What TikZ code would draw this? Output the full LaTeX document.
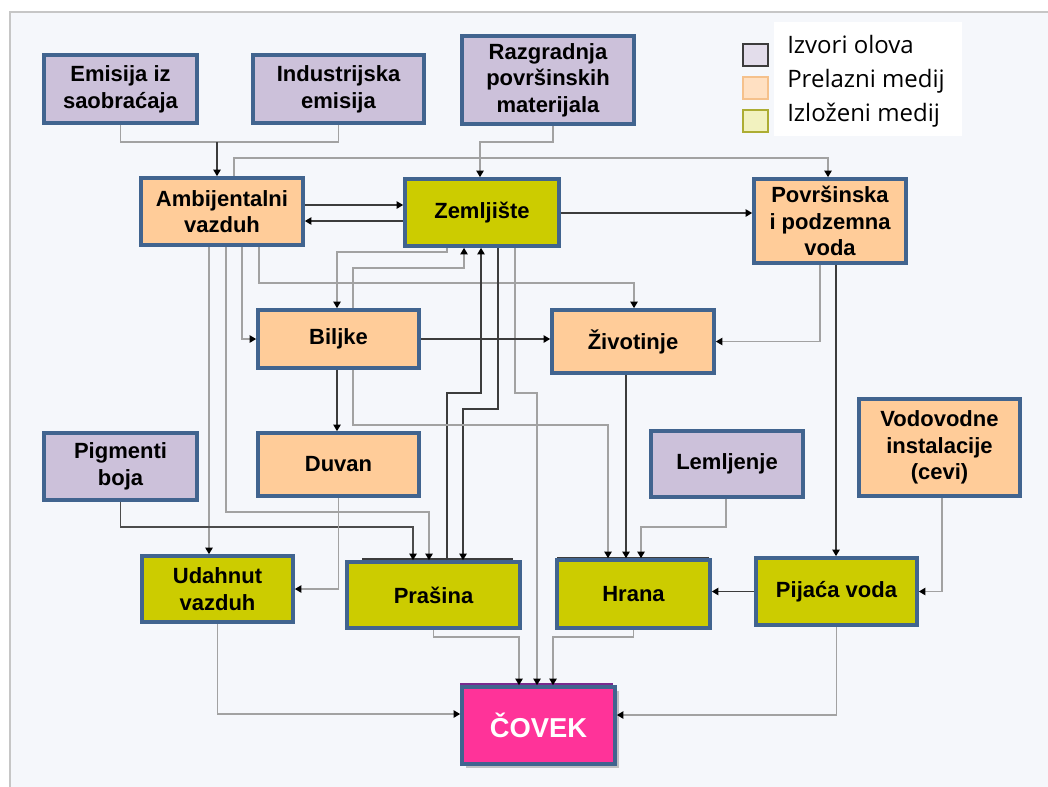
\documentclass[tikz,border=0pt]{standalone}
\usepackage{fontspec}
\setmainfont{Liberation Sans}
\newfontfamily\legfont{Open Sans}
\usetikzlibrary{arrows.meta}
\definecolor{boxblue}{HTML}{41648F}
\definecolor{lilac}{HTML}{CCC1DA}
\definecolor{peach}{HTML}{FFCC99}
\definecolor{olive}{HTML}{CCCC00}
\definecolor{pinkc}{HTML}{FF3399}
\definecolor{purplec}{HTML}{7A2A8E}
\definecolor{panelbg}{HTML}{F5F7FB}
\definecolor{lgray}{HTML}{A2A2A2}
\definecolor{dgray}{HTML}{3C3C3C}
\tikzset{
  x=0.75pt, y=-0.75pt,
  sz/.style 2 args={minimum width=#1*0.75pt, minimum height=#2*0.75pt},
  box/.style={draw=boxblue, line width=2.7pt, align=center, inner sep=0pt,
    font=\bfseries\fontsize{16.5}{20}\selectfont},
  src/.style={box, fill=lilac},
  mid/.style={box, fill=peach},
  exp/.style={box, fill=olive},
  tipk/.style={-{Triangle[length=5pt,width=5.5pt,color=black]}},
  gl/.style={draw=lgray, line width=1.3pt},
  dl/.style={draw=dgray, line width=1.3pt},
  legtext/.style={anchor=base west, inner sep=0pt, font=\legfont\fontsize{18}{22}\selectfont},
}
\begin{document}
\begin{tikzpicture}
\useasboundingbox (0,0) rectangle (1048,786);
\fill[white] (0,0) rectangle (1048,786);
\draw[draw=gray!45, line width=1.5pt, fill=panelbg] (10,12) rectangle (1070,810);

% legend
\fill[white] (774,22) rectangle (962,136);
\draw[draw=dgray, line width=1.5pt, fill=lilac!55] (743,44) rectangle (768,66);
\draw[draw=peach!85!brown, line width=1pt, fill=peach!60] (743,77) rectangle (768,99);
\draw[draw=olive!60!gray, line width=1pt, fill=olive!25] (743,110) rectangle (768,132);
\node[legtext] (l1) at (787,53) {Izvori olova};
\node[legtext] (l2) at (787,87) {Prelazni medij};
\node[legtext] (l3) at (787,121) {Izloženi medij};

% shadows behind some boxes
\draw[dgray, line width=2pt] (362,559) -- (513,559);
\draw[dgray, line width=2pt] (557,558) -- (709,558);
\fill[black, opacity=0.22] (466,691) rectangle (619,768);
\fill[purplec] (460,683) rectangle (613,748);

% nodes
\node[src, sz={153}{68}] (emis) at (120.5,89) {Emisija iz\\saobraćaja};
\node[src, sz={171}{68}] (ind) at (338.5,89) {Industrijska\\emisija};
\node[src, sz={172}{88}] (razg) at (548,80) {Razgradnja\\površinskih\\materijala};
\node[mid, sz={162}{67}] (amb) at (222,211.5) {Ambijentalni\\vazduh};
\node[exp, sz={154}{67}] (zem) at (482,212.5) {Zemljište};
\node[mid, sz={152}{84}] (pov) at (830,221) {Površinska\\i podzemna\\voda};
\node[mid, sz={161}{58}] (bilj) at (338.5,339) {Biljke};
\node[mid, sz={162}{63}] (ziv) at (633,341.5) {Životinje};
\node[mid, sz={161}{63}] (duv) at (338.5,464.5) {Duvan};
\node[src, sz={153}{67}] (pig) at (120.5,466.5) {Pigmenti\\boja};
\node[src, sz={152}{66}] (lem) at (727,464) {Lemljenje};
\node[mid, sz={161}{97}] (vod) at (939.5,447.5) {Vodovodne\\instalacije\\(cevi)};
\node[exp, sz={151}{66}] (udah) at (217.5,589) {Udahnut\\vazduh};
\node[exp, sz={173}{66}] (pras) at (433.5,595) {Prašina};
\node[exp, sz={153}{68}] (hra) at (633.5,594) {Hrana};
\node[exp, sz={161}{67}] (pij) at (836.5,591.5) {Pijaća voda};
\node[box, fill=pinkc, sz={153}{77}, text=white,
      font=\bfseries\fontsize{20.5}{24}\selectfont] (cov) at (538.5,725.5) {ČOVEK};

% connectors
\coordinate (j1) at (217,142);
\draw[gl] (emis.south) |- (338.5,142) -- (ind.south);
\draw[dl, tipk] (j1) -- (217,0 |- amb.north);
\draw[gl, tipk] (234,0 |- amb.north) -- (234,158) -| (828,0 |- pov.north);
\draw[gl, tipk] (553,0 |- razg.south) -- (553,142) -| (480,0 |- zem.north);
\draw[dl, tipk] (amb.east |- 0,205) -- (zem.west |- 0,205);
\draw[dl, tipk] (zem.west |- 0,221) -- (amb.east |- 0,221);
\draw[dl, tipk] (zem.east |- 0,213) -- (pov.west |- 0,213);

\draw[gl, tipk] (209,0 |- amb.south) -- (209,0 |- udah.north);
\draw[gl, tipk] (226,0 |- amb.south) -- (226,512) -| (429,0 |- pras.north);
\draw[gl, tipk] (242,0 |- amb.south) |- (bilj.west);
\draw[gl, tipk] (259,0 |- amb.south) -- (259,283) -| (634,0 |- ziv.north);

\draw[gl, tipk] (447,0 |- zem.south) -- (447,252) -| (337,0 |- bilj.north);
\draw[gl, tipk] (353,0 |- bilj.north) -- (353,268) -| (464,0 |- zem.south);
\draw[dl, tipk] (447,0 |- pras.north) -- (447,393) -| (481,0 |- zem.south);
\draw[dl, tipk] (498,0 |- zem.south) -- (498,409) -| (463,0 |- pras.north);
\draw[gl, tipk] (515,0 |- zem.south) -- (515,393) -| (537,0 |- cov.north);

\draw[dl, tipk] (bilj.east) -- (ziv.west |- bilj.east);
\draw[dl, tipk] (337,0 |- bilj.south) -- (337,0 |- duv.north);
\draw[gl, tipk] (353,0 |- bilj.south) -- (353,425) -| (608,0 |- hra.north);
\draw[dl, tipk] (626,0 |- ziv.south) -- (626,0 |- hra.north);
\draw[gl, tipk] (726,0 |- lem.south) -- (726,527) -| (641,0 |- hra.north);
\draw[gl, tipk] (820,0 |- pov.south) |- (ziv.east);
\draw[dl, tipk] (836,0 |- pov.south) -- (836,0 |- pij.north);
\draw[gl, tipk] (942,0 |- vod.south) |- (pij.east);
\draw[dl, tipk] (pij.west) -- (hra.east |- pij.west);
\draw[draw=gray!60!black, line width=1.3pt, tipk] (pig.south) -- (120.5,527) -| (413,0 |- pras.north);
\draw[gl, tipk] (duv.south) |- (udah.east);
\draw[gl, tipk] (udah.south) |- (cov.west |- 0,714);
\draw[gl, tipk] (pras.south) |- (519,637) -- (519,0 |- cov.north);
\draw[gl, tipk] (hra.south) |- (553,637) -- (553,0 |- cov.north);
\draw[gl, tipk] (pij.south) |- (cov.east |- 0,715);
\end{tikzpicture}
\end{document}
